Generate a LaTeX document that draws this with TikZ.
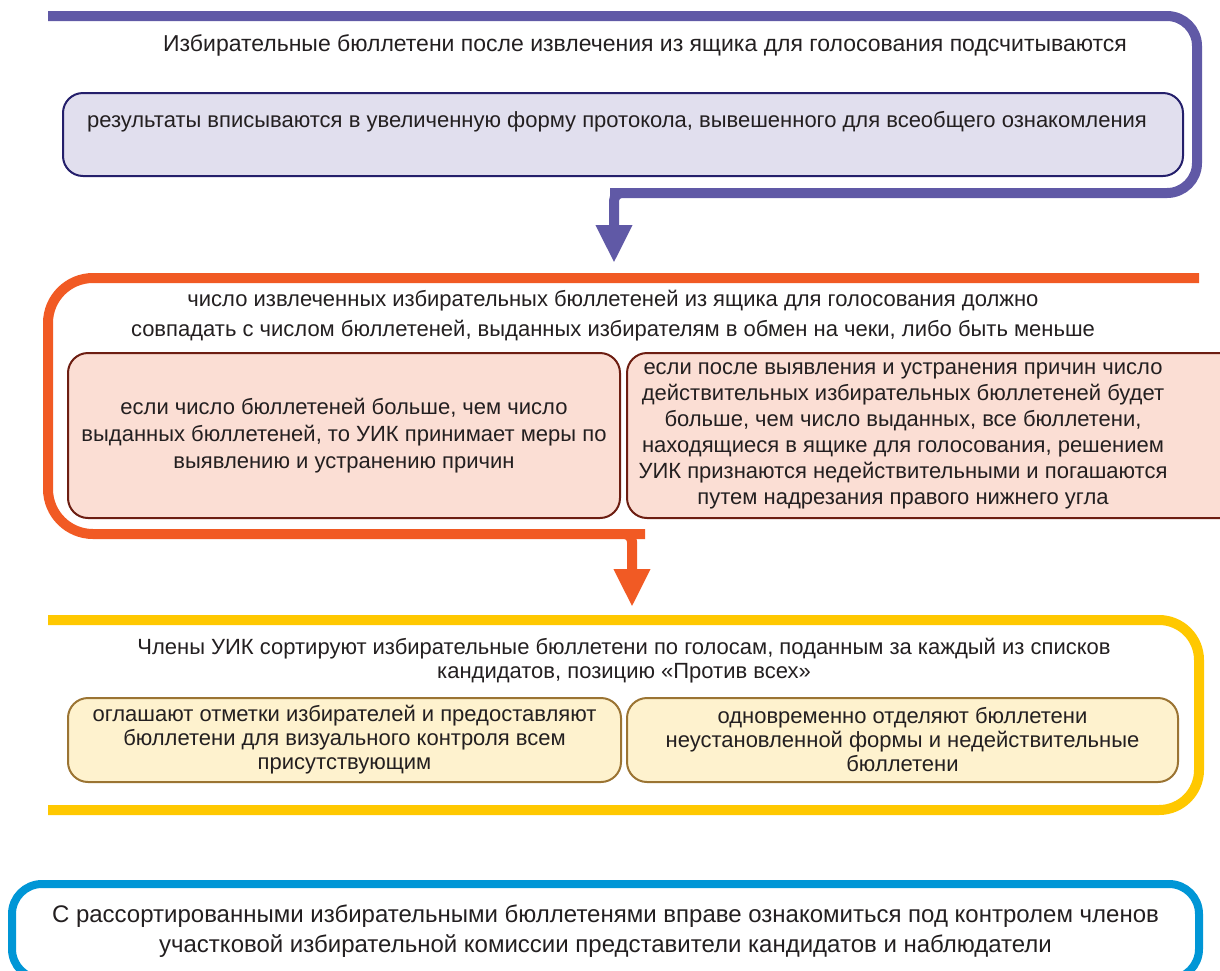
\documentclass[tikz,border=0pt]{standalone}
\usepackage{fontspec}
\setmainfont{Liberation Sans}
\usetikzlibrary{positioning,arrows.meta}
\definecolor{violetcolor}{RGB}{96,89,166}
\definecolor{navycolor}{RGB}{36,31,107}
\definecolor{lavendercolor}{RGB}{225,223,238}
\definecolor{orangecolor}{RGB}{241,90,36}
\definecolor{maroncolor}{RGB}{109,30,18}
\definecolor{peachcolor}{RGB}{251,222,212}
\definecolor{yellowcolor}{RGB}{255,200,0}
\definecolor{ochrecolor}{RGB}{155,116,51}
\definecolor{creamcolor}{RGB}{254,242,206}
\definecolor{bluecolor}{RGB}{0,150,214}
\definecolor{textcolor}{RGB}{35,31,32}

\begin{document}
\begin{tikzpicture}[x=1pt,y=-1pt,
    frame/.style={line width=10pt},
    tip/.style={-{Triangle[width=34pt,length=38pt]}},
    innerbox/.style={rectangle, draw, rounded corners=20pt, line width=2pt, inner sep=0pt, align=center},
    txt/.style={text=textcolor, align=center, inner sep=0pt, font=\fontsize{22}{26}\selectfont}
]
\useasboundingbox (0,0) rectangle (1220,970);

% first stage
\node[innerbox, draw=navycolor, fill=lavendercolor, minimum width=1120pt, minimum height=83pt] (resbox) at (623,134.5) {};
\node[txt, font=\fontsize{23}{26}\selectfont] (counttitle) at (645,45) {Избирательные бюллетени после извлечения из ящика для голосования подсчитываются};
\node[txt] (restext) at (617,122) {результаты вписываются в увеличенную форму протокола, вывешенного для всеобщего ознакомления};
\draw[frame, violetcolor, tip, rounded corners=30pt] (48,16) -- (1197,16) -- (1197,193) -- (640,193) [rounded corners=8pt] -- (614,193) -- (614,263);

% second stage
\node[txt, font=\fontsize{22}{30}\selectfont] (matchtitle) at (613,316) {число извлеченных избирательных бюллетеней из ящика для голосования должно\\совпадать с числом бюллетеней, выданных избирателям в обмен на чеки, либо быть меньше};
\node[innerbox, draw=maroncolor, fill=peachcolor, minimum width=552pt, minimum height=165pt, text=textcolor, font=\fontsize{22}{27}\selectfont] (morebox) at (344,435.5) {если число бюллетеней больше, чем число\\выданных бюллетеней, то УИК принимает меры по\\выявлению и устранению причин};
\node[innerbox, draw=maroncolor, fill=peachcolor, minimum width=613pt, minimum height=165pt] (voidbox) at (933.5,435.5) {};
\node[txt] (voidtext) at (903,436) {если после выявления и устранения причин число\\действительных избирательных бюллетеней будет\\больше, чем число выданных, все бюллетени,\\находящиеся в ящике для голосования, решением\\УИК признаются недействительными и погашаются\\путем надрезания правого нижнего угла};
\draw[frame, orangecolor, tip, rounded corners=45pt] (1199,278) -- (48,278) -- (48,534) -- (600,534) [rounded corners=8pt] -- (632,534) -- (632,607);

% third stage
\node[txt, font=\fontsize{22}{24}\selectfont] (sorttitle) at (624,661) {Члены УИК сортируют избирательные бюллетени по голосам, поданным за каждый из списков\\кандидатов, позицию «Против всех»};
\node[innerbox, draw=ochrecolor, fill=creamcolor, minimum width=553pt, minimum height=84pt, text=textcolor, font=\fontsize{22}{24}\selectfont] (showbox) at (344.5,740) {оглашают отметки избирателей и предоставляют\\бюллетени для визуального контроля всем\\присутствующим};
\node[innerbox, draw=ochrecolor, fill=creamcolor, minimum width=551pt, minimum height=84pt, text=textcolor, font=\fontsize{22}{24}\selectfont] (splitbox) at (902.5,740) {одновременно отделяют бюллетени\\неустановленной формы и недействительные\\бюллетени};
\draw[frame, yellowcolor, rounded corners=40pt] (48,620) -- (1199,620) -- (1199,810) -- (48,810);

% last stage
\node[draw=bluecolor, line width=8pt, rounded corners=30pt, minimum width=1187pt, minimum height=95pt, inner sep=0pt, align=center, text=textcolor, font=\fontsize{24}{30}\selectfont] (viewbox) at (605.5,931.5) {С рассортированными избирательными бюллетенями вправе ознакомиться под контролем членов\\участковой избирательной комиссии представители кандидатов и наблюдатели};
\end{tikzpicture}
\end{document}
